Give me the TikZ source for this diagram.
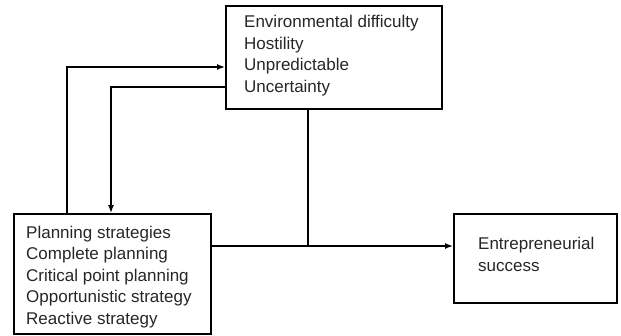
\documentclass[tikz,border=0pt]{standalone}
\usepackage{fontspec}
\setmainfont{Liberation Sans}
\usetikzlibrary{arrows.meta}
\begin{document}
\begin{tikzpicture}[x=1pt,y=-1pt,
  boxstyle/.style={draw=black,line width=1.5pt,rectangle},
  txt/.style={inner sep=0pt,anchor=base west,align=left,font=\fontsize{17}{21.4}\selectfont,text=black!85},
  conn/.style={draw=black,line width=1.4pt},
  arr/.style={conn,-{Latex[length=8pt,width=6pt]}}]
\useasboundingbox (0,0) rectangle (621,335);
% boxes
\node[boxstyle,minimum width=216pt,minimum height=103pt,anchor=north west] (env) at (225,5) {};
\node[boxstyle,minimum width=197pt,minimum height=120pt,anchor=north west] (plan) at (13,213) {};
\node[boxstyle,minimum width=163pt,minimum height=89pt,anchor=north west] (succ) at (453,213) {};
% texts (anchored at the baseline of their last line)
\node[txt] (envtxt) at (244,92) {Environmental difficulty\\Hostility\\Unpredictable\\Uncertainty};
\node[txt] (plantxt) at (26,324) {Planning strategies\\Complete planning\\Critical point planning\\Opportunistic strategy\\Reactive strategy};
\node[txt] (succtxt) at (478,271) {Entrepreneurial\\success};
% junction coordinates
\coordinate (j) at (308,246);
\coordinate (o1) at (67,213);
\coordinate (o2) at (67,67);
\coordinate (i1) at (225,87);
\coordinate (i2) at (111,87);
\coordinate (i3) at (111,213);
\coordinate (eb) at (308,108);
\coordinate (pr) at (210,246);
\coordinate (sl) at (453,246);
% connectors
\draw[arr] (pr) -- (sl);
\draw[conn] (eb) -- (j);
\draw[arr] (o1) -- (o2) -- (o2 -| env.west);
\draw[arr] (i1) -- (i2) -- (i3);
\end{tikzpicture}
\end{document}
